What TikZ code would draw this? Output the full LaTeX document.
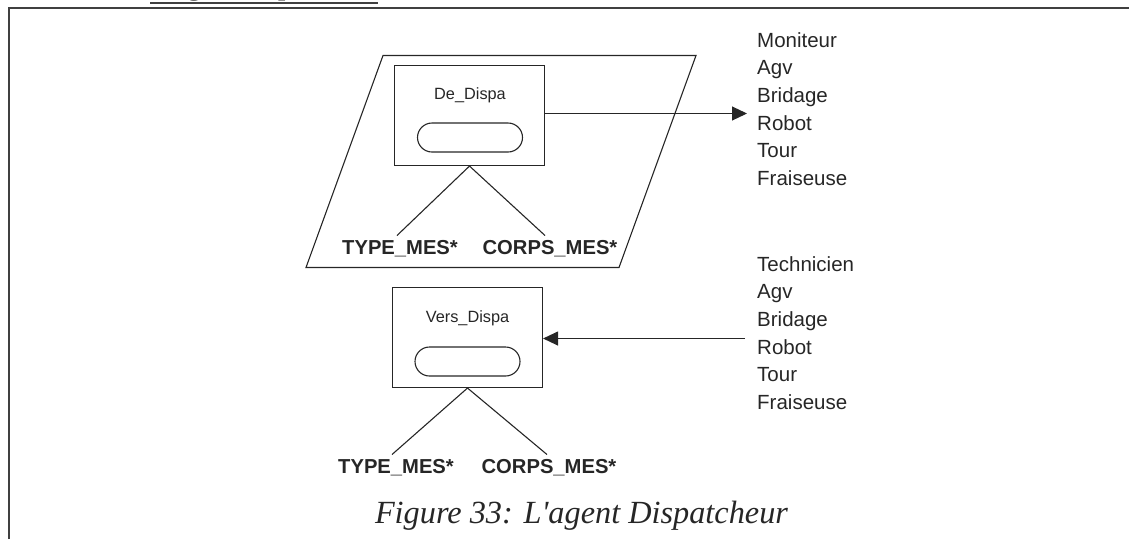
\documentclass[tikz,border=0pt]{standalone}
\usepackage{fontspec}
\setmainfont{Liberation Serif}
\setsansfont{Liberation Sans}
\usetikzlibrary{arrows.meta}
\tikzset{
  thin line/.style={line width=1.1pt, black!85},
  frame line/.style={line width=2.4pt, black!75},
  msgbox/.style={draw, thin line, minimum width=150pt, minimum height=100pt, inner sep=0pt},
  pill/.style={draw, thin line, minimum width=105pt, minimum height=29pt, rounded corners=14.5pt, inner sep=0pt},
  boxlabel/.style={font=\sffamily\fontsize{16.3}{18}\selectfont, inner sep=0pt, text=black!85},
  fieldlabel/.style={font=\sffamily\bfseries\fontsize{20.2}{22}\selectfont, inner sep=0pt, text=black!85},
  listlabel/.style={font=\sffamily\fontsize{20.5}{27.7}\selectfont, align=left, anchor=north west, inner sep=0pt, text=black!85},
  tip/.style={-{Triangle[length=15pt, width=14pt]}},
}
\begin{document}
\begin{tikzpicture}[x=1pt, y=-1pt]
\useasboundingbox (0,0) rectangle (1129,539);
\clip (0,0) rectangle (1129,539);
% outer frame
\draw[frame line] (9,539) -- (9,8) -- (1129,8);
% cut-off heading
\node[font=\bfseries\fontsize{26}{28}\selectfont, anchor=base west, inner sep=0pt, text=black!80] (head) at (150,-5) {L\textquotesingle agent Dispatcheur};
\draw[line width=2pt, black!75] (head.base west) ++(0,8) coordinate (hu1) -- (hu1 -| head.base east);
% parallelogram
\draw[thin line] (383,55.5) -- (696,55.5) -- (619,267.5) -- (306,267.5) -- cycle;
% upper box
\node[msgbox] (b1) at (469.5,115.5) {};
\node[boxlabel] (l1) at (470,95) {De\_Dispa};
\node[pill] (p1) at (470,137.5) {};
\node[fieldlabel] (t1) at (400,249) {TYPE\_MES*};
\node[fieldlabel] (c1) at (550,249) {CORPS\_MES*};
\draw[thin line] (b1.south) -- ([xshift=-3pt,yshift=5pt]t1.north);
\draw[thin line] (b1.south) -- ([xshift=-5pt,yshift=5pt]c1.north);
\coordinate (e1) at (747,113.5);
\draw[thin line, tip] (b1.east |- e1) -- (e1);
\node[listlabel] (r1) at (757,32) {Moniteur\\Agv\\Bridage\\Robot\\Tour\\Fraiseuse};
% lower box
\node[msgbox] (b2) at (467.5,337.5) {};
\node[boxlabel] (l2) at (467.5,318) {Vers\_Dispa};
\node[pill] (p2) at (467.5,361.5) {};
\node[fieldlabel] (t2) at (396,468) {TYPE\_MES*};
\node[fieldlabel] (c2) at (549,468) {CORPS\_MES*};
\draw[thin line] (b2.south) -- ([xshift=-4pt,yshift=5pt]t2.north);
\draw[thin line] (b2.south) -- ([xshift=-2pt,yshift=5pt]c2.north);
\coordinate (e2) at (745,338.5);
\draw[thin line, tip] (e2) -- (b2.east |- e2);
\node[listlabel] (r2) at (757,256) {Technicien\\Agv\\Bridage\\Robot\\Tour\\Fraiseuse};
% caption
\node[font=\itshape\fontsize{32.3}{36}\selectfont, anchor=base, inner sep=0pt, text=black!85] (cap) at (581.5,523) {Figure 33: L\textquotesingle agent Dispatcheur};
\end{tikzpicture}
\end{document}
